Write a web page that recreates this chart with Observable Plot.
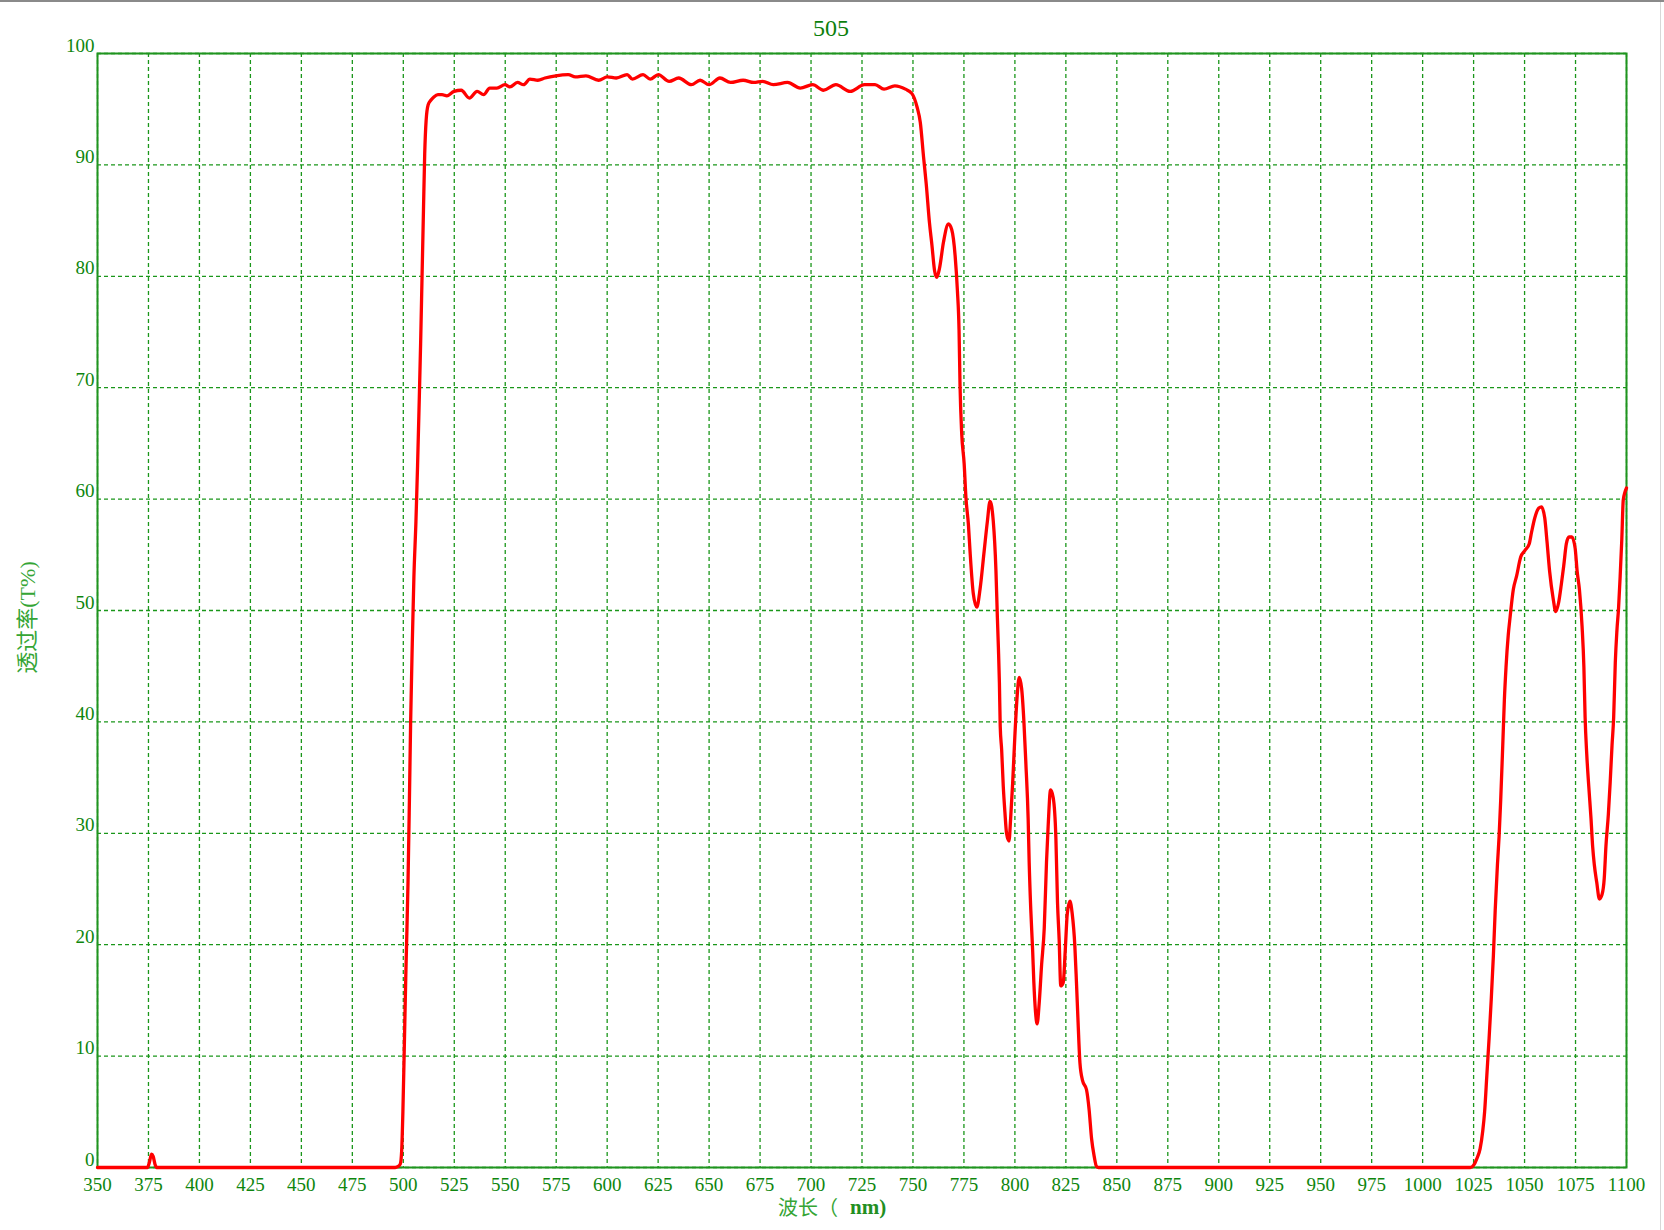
<!DOCTYPE html>
<html>
<head>
<meta charset="utf-8">
<script src="https://cdn.jsdelivr.net/npm/d3@7"></script>
<script src="https://cdn.jsdelivr.net/npm/@observablehq/plot@0.6"></script>
<style>
  html, body { margin: 0; padding: 0; background: #fff; }
  #wrap { position: relative; width: 1664px; height: 1230px; overflow: hidden; }
  #topline { position: absolute; left: 0; top: 0; width: 1664px; height: 2px; background: #8a8a8a; }
  #rightline { position: absolute; left: 1660px; top: 2px; width: 1px; height: 1228px; background: #d8d8d8; }
</style>
</head>
<body>
<div id="wrap"><div id="topline"></div><div id="rightline"></div></div>
<script>
const chartTitle = "505";
const xLabelA = "波长（";
const xLabelB = "nm)";
const yLabel = "透过率(T%)";

const xTicks = [350, 375, 400, 425, 450, 475, 500, 525, 550, 575, 600, 625, 650, 675, 700, 725, 750, 775, 800, 825, 850, 875, 900, 925, 950, 975, 1000, 1025, 1050, 1075, 1100];
const yTicks = [0, 10, 20, 30, 40, 50, 60, 70, 80, 90, 100];

const wavelength = [
  350, 372, 374.5, 375.5, 376.5, 377.3, 378.2, 379,
  496, 497.5, 498.5, 499.2, 499.8, 500.4, 501.2, 501.6, 502.3, 503, 503.6, 504.4,
  505.2, 506.2, 507, 507.7, 508.5, 509.2, 509.9, 510.5, 511.2, 512.2, 513.5, 515,
  517, 519, 521.4, 524.9, 528.4, 532.4, 536.2, 539.4, 542.4, 545.9, 549.9, 552.3,
  556, 559, 562.1, 566, 569.5, 574.8, 580.9, 584.4, 589.6, 595.8, 600.1, 604.5,
  609.8, 612.4, 617.6, 621.1, 625.1, 630.4, 635.1, 641.3, 645.6, 650, 655.3, 660.5,
  666.7, 671.9, 676.3, 681.5, 688.5, 694.7, 700.8, 706.1, 712.2, 719.2, 726.2, 731.4,
  735.8, 741.1, 746.3, 749.5, 752, 753.6, 755.2, 756.5, 758.1, 759.3, 760.6, 761.7,
  763, 765, 767.4, 769, 770.7, 771.8, 772.6, 773.1, 773.9, 775.1, 776, 777.2,
  778, 779.6, 781.3, 782.9, 784.9, 786.5, 787.8, 789.4, 790.7, 791.4, 791.9, 792.4,
  792.8, 793.5, 794.3, 795.1, 795.9, 797.1, 797.9, 798.9, 800, 801.1, 802.1, 803.3,
  804.4, 805.4, 806.5, 807, 807.8, 808.7, 809.3, 810.1, 810.9, 811.9, 813.1, 814.4,
  815.5, 816.3, 817.5, 818.8, 820.1, 820.9, 821.7, 822.5, 823.7, 824.7, 825.7, 827,
  828.1, 829.4, 830.2, 831, 831.9, 833.2, 835.1, 836.4, 837.6, 838.9, 840, 841,
  1023.4, 1025, 1026.6, 1028.2, 1029.5, 1030.4, 1031.5, 1032.6, 1033.6, 1034.7, 1035.6, 1036.7,
  1037.5, 1038.3, 1039.3, 1040.1, 1040.9, 1042, 1042.9, 1044.5, 1046.1, 1048.1, 1050.2, 1052.3,
  1053.4, 1055, 1057, 1058.3, 1059.9, 1061, 1062.3, 1064, 1065.3, 1066.7, 1068, 1069.2,
  1070.5, 1071.8, 1073.2, 1074.8, 1075.8, 1076.9, 1078.2, 1079.1, 1079.7, 1080.5, 1081.5, 1082.6,
  1083.4, 1084.2, 1085.4, 1086.7, 1088, 1089.1, 1089.9, 1091.1, 1092, 1092.9, 1093.7, 1094.5,
  1095.3, 1096.1, 1096.9, 1097.7, 1098.4, 1099.2, 1100
];
const transmittance = [
  0, 0, 0, 0.5, 1.2, 1.0, 0.3, 0,
  0, 0.1, 0.3, 1.5, 5, 10, 17, 20, 25.5, 33, 40, 47,
  53, 58, 63, 68, 74, 80, 86, 91, 94, 95.4, 95.8, 96.1,
  96.3, 96.3, 96.2, 96.6, 96.7, 96.0, 96.6, 96.3, 96.9, 96.9, 97.2, 97.0,
  97.4, 97.2, 97.7, 97.6, 97.8, 98.0, 98.1, 97.9, 98.0, 97.6, 97.9, 97.8,
  98.1, 97.7, 98.1, 97.7, 98.1, 97.5, 97.8, 97.2, 97.6, 97.2, 97.8, 97.4,
  97.6, 97.4, 97.5, 97.2, 97.4, 96.9, 97.2, 96.7, 97.2, 96.6, 97.2, 97.2,
  96.8, 97.1, 96.8, 96.4, 95.2, 93.8, 90.7, 88.3, 84.8, 82.8, 80.5, 79.9,
  80.7, 83.1, 84.7, 84.2, 81.8, 78.7, 75.2, 70.1, 65.9, 63.2, 60.1, 57.7,
  55.3, 51.5, 50.3, 51.9, 55.3, 58, 59.8, 58, 53.6, 49.4, 46.7, 43.5,
  39.6, 37.5, 34.2, 31.9, 30.0, 29.3, 31.3, 34.5, 38.8, 42.3, 44, 43,
  40.1, 36.2, 31.3, 27.4, 23.1, 19.5, 16.6, 14.0, 12.9, 14.7, 18.2, 21.5,
  27.4, 30.6, 33.9, 33.2, 29.6, 23.8, 20.5, 16.3, 16.6, 19.5, 22.8, 23.9,
  22.8, 19.9, 16.6, 13.0, 9.4, 7.8, 7.0, 5.2, 2.6, 1.0, 0.1, 0,
  0, 0.2, 0.8, 1.7, 3.3, 5.0, 8.3, 11.6, 14.9, 19.0, 23.1, 27.2,
  29.7, 33, 37.9, 42.0, 44.9, 47.8, 49.4, 51.9, 53.1, 54.8, 55.4, 56.0,
  57.0, 58.3, 59.2, 59.3, 58.3, 56.2, 53.5, 51.1, 49.9, 50.7, 52.3, 54.0,
  56.0, 56.6, 56.6, 55.6, 53.5, 51.9, 48.6, 44.9, 40.4, 37.1, 34.2, 31.3,
  28.8, 27.2, 25.6, 24.1, 24.5, 26.0, 28.8, 31.7, 34.6, 37.9, 40.4, 45.3,
  48.2, 50.2, 53.1, 56.4, 59.9, 60.6, 61
];

const data = wavelength.map((w, i) => ({w, t: transmittance[i]}));

const gridColor = "#1a961a";
const frameColor = "#1f941f";
const tickColor = "#0e860e";
const labelColor = "#35a535";

const chart = Plot.plot({
  width: 1664,
  height: 1230,
  marginLeft: 97,
  marginRight: 38,
  marginTop: 53,
  marginBottom: 63,
  x: {domain: [350, 1100], axis: null},
  y: {domain: [0, 100], axis: null},
  style: {background: "transparent", fontFamily: "'Liberation Serif', 'Times New Roman', serif"},
  marks: [
    Plot.ruleX(xTicks, {stroke: gridColor, strokeWidth: 1.3, strokeDasharray: "4,3"}),
    Plot.ruleY(yTicks, {stroke: gridColor, strokeWidth: 1.3, strokeDasharray: "4,3"}),
    Plot.frame({stroke: frameColor, strokeWidth: 2}),
    Plot.line(data, {x: "w", y: "t", stroke: "#ff0000", strokeWidth: 3.3, curve: "monotone-x"}),
    Plot.text(xTicks, {x: d => d, y: 0, text: d => String(d), dy: 17, fill: tickColor, fontSize: 19}),
    Plot.text(yTicks, {x: 350, y: d => d, text: d => String(d), dx: -3, dy: -8, textAnchor: "end", fill: tickColor, fontSize: 19}),
    Plot.text([chartTitle], {frameAnchor: "top", text: d => d, dx: -31, dy: -25, lineAnchor: "middle", textAnchor: "middle", fill: "#0c7f0c", fontSize: 24}),
    Plot.text([xLabelA], {frameAnchor: "bottom", text: d => d, dx: -24, dy: 41, lineAnchor: "middle", textAnchor: "end", fill: labelColor, fontSize: 20, fontFamily: "'Noto Sans CJK SC', sans-serif"}),
    Plot.text([xLabelB], {frameAnchor: "bottom", text: d => d, dx: -12, dy: 40, lineAnchor: "middle", textAnchor: "start", fill: "#228f22", fontSize: 21, fontWeight: "bold"}),
    Plot.text([yLabel], {frameAnchor: "left", text: d => d, dx: -70, dy: 7, rotate: -90, lineAnchor: "middle", textAnchor: "middle", fill: labelColor, fontSize: 22, fontFamily: "'Liberation Serif', 'Noto Sans CJK SC', serif"})
  ]
});
chart.style.position = "absolute";
chart.style.left = "0px";
chart.style.top = "0px";
document.getElementById("wrap").prepend(chart);
</script>
</body>
</html>
